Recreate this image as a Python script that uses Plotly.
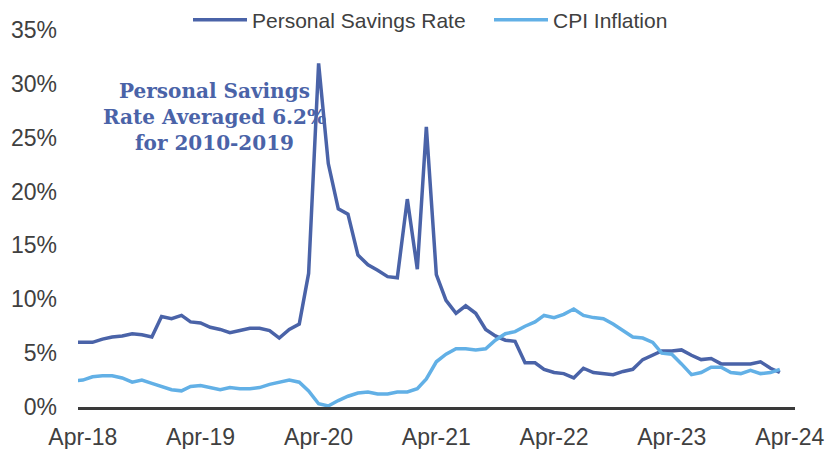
import pandas as pd
import plotly.graph_objects as go

# Monthly data, Mar-2018 .. Mar-2024
months = pd.date_range("2018-03-01", periods=73, freq="MS")

savings_rate = [
    6.0,                                                  # Mar-18
    6.0, 6.0, 6.3, 6.5, 6.6, 6.8, 6.7, 6.5, 8.4,          # Apr-18 .. Dec-18
    8.2, 8.5, 7.9, 7.8, 7.4, 7.2, 6.9, 7.1, 7.3, 7.3, 7.1, 6.4,   # 2019
    7.2, 7.7, 12.4, 31.9, 22.6, 18.4, 17.9, 14.1, 13.2, 12.7, 12.1, 12.0,  # 2020
    19.3, 12.8, 26.0, 12.3, 9.9, 8.7, 9.4, 8.7, 7.2, 6.6, 6.2, 6.1,  # 2021
    4.1, 4.1, 3.5, 3.2, 3.1, 2.7, 3.6, 3.2, 3.1, 3.0, 3.3, 3.5,      # 2022
    4.4, 4.8, 5.2, 5.2, 5.3, 4.8, 4.4, 4.5, 4.0, 4.0, 4.0, 4.0,      # 2023
    4.2, 3.6, 3.2,                                                   # 2024
]

cpi_inflation = [
    2.4,
    2.5, 2.8, 2.9, 2.9, 2.7, 2.3, 2.5, 2.2, 1.9,
    1.6, 1.5, 1.9, 2.0, 1.8, 1.6, 1.8, 1.7, 1.7, 1.8, 2.1, 2.3,
    2.5, 2.3, 1.5, 0.3, 0.1, 0.6, 1.0, 1.3, 1.4, 1.2, 1.2, 1.4,
    1.4, 1.7, 2.6, 4.2, 4.9, 5.4, 5.4, 5.3, 5.4, 6.2, 6.8, 7.0,
    7.5, 7.9, 8.5, 8.3, 8.6, 9.1, 8.5, 8.3, 8.2, 7.7, 7.1, 6.5,
    6.4, 6.0, 5.0, 4.9, 4.0, 3.0, 3.2, 3.7, 3.7, 3.2, 3.1, 3.4,
    3.1, 3.2, 3.5,
]

y_ticks = [0, 5, 10, 15, 20, 25, 30, 35]
y_tick_labels = ["0%", "5%", "10%", "15%", "20%", "25%", "30%", "35%"]

SAV_COLOR = "#4A63A8"
CPI_COLOR = "#62B0E6"
TEXT_COLOR = "#404040"
FONT = "Liberation Sans, Arial, sans-serif"

fig = go.Figure()
fig.add_trace(go.Scatter(
    x=months, y=savings_rate, mode="lines", name="Personal Savings Rate",
    line=dict(color=SAV_COLOR, width=3.5), legend="legend", showlegend=True,
))
fig.add_trace(go.Scatter(
    x=months, y=cpi_inflation, mode="lines", name="CPI Inflation",
    line=dict(color=CPI_COLOR, width=3.5), legend="legend2", showlegend=True,
))

fig.add_annotation(
    x="2019-05-15", y=26.9, xref="x", yref="y",
    text="<b>Personal Savings<br>Rate Averaged 6.2%<br>for 2010-2019</b>",
    showarrow=False, xanchor="center", yanchor="middle", align="center",
    font=dict(family="DejaVu Serif, serif", size=20, color=SAV_COLOR),
)

legend_common = dict(
    orientation="h", yref="container", y=1 - 20 / 449, yanchor="middle",
    xref="container", xanchor="left",
    font=dict(size=21, color=TEXT_COLOR), itemwidth=54,
    bgcolor="rgba(0,0,0,0)",
)

fig.update_layout(
    width=827, height=449,
    showlegend=True,
    margin=dict(l=78, r=32, t=30, b=42, autoexpand=False),
    paper_bgcolor="white", plot_bgcolor="white",
    font=dict(family=FONT, color=TEXT_COLOR, size=23),
    legend=dict(x=188 / 827, **legend_common),
    legend2=dict(x=489 / 827, **legend_common),
    xaxis=dict(
        range=["2018-03-17", "2024-04-17"],
        tick0="2018-04-01", dtick="M12", tickformat="%b-%y",
        showgrid=False, zeroline=False,
        showline=True, linecolor="#3A3A3A", linewidth=3,
        ticks="", ticklabelstandoff=7,
        tickfont=dict(size=23, color=TEXT_COLOR),
    ),
    yaxis=dict(
        range=[0, 35], tickvals=y_ticks, ticktext=y_tick_labels,
        showgrid=False, zeroline=False, showline=False,
        ticks="", ticklabelstandoff=20,
        tickfont=dict(size=23, color=TEXT_COLOR),
    ),
)

fig.write_html(
    "out.html",
    config={"displayModeBar": False},
    post_script="document.body.style.margin='0';document.body.style.padding='0';",
)
